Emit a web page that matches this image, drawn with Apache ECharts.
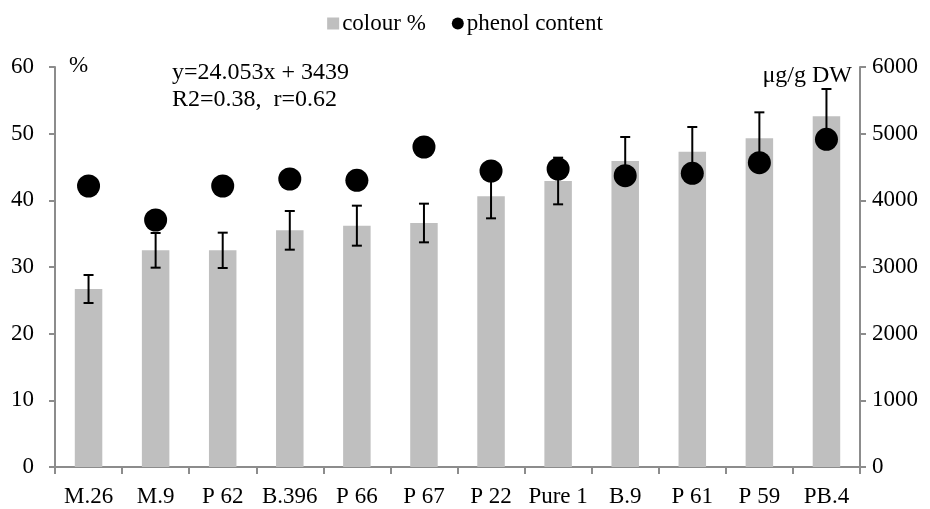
<!DOCTYPE html>
<html><head><meta charset="utf-8">
<script src="https://cdn.jsdelivr.net/npm/echarts@6/dist/echarts.min.js"></script>
<style>html,body{margin:0;padding:0;background:#fff}#c{width:930px;height:509px}</style>
</head><body><div id="c"></div>
<script>
const categories = ['M.26','M.9','P 62','B.396','P 66','P 67','P 22','Pure 1','B.9','P 61','P 59','PB.4'];
const colourPct = [26.7, 32.5, 32.5, 35.5, 36.2, 36.6, 40.6, 42.9, 45.9, 47.3, 49.3, 52.6];
const colourErr = [2.1, 2.6, 2.65, 2.9, 3.0, 2.9, 3.3, 3.5, 3.6, 3.7, 3.9, 4.1];
const phenol = [4215, 3705, 4215, 4320, 4300, 4800, 4440, 4470, 4370, 4405, 4565, 4915];
const leftTicks = [0, 10, 20, 30, 40, 50, 60];
const rightTicks = [0, 1000, 2000, 3000, 4000, 5000, 6000];

const FONT = 'Liberation Serif';
const FS = 23;
const axisColor = '#8c8c8c';
const chart = echarts.init(document.getElementById('c'));
chart.setOption({
  animation: false,
  backgroundColor: '#fff',
  textStyle: {fontFamily: FONT, color: '#000'},
  legend: {
    top: 7, left: 'center', itemGap: 26, itemWidth: 12, itemHeight: 12,
    textStyle: {fontFamily: FONT, fontSize: FS, color: '#000', padding: [0, 0, 0, -2]},
    data: [
      {name: 'colour %', icon: 'rect', itemStyle: {color: '#bfbfbf'}},
      {name: 'phenol content', icon: 'circle', itemStyle: {color: '#000'}}
    ]
  },
  grid: {left: 55, right: 70, top: 67, bottom: 42},
  xAxis: {
    type: 'category', data: categories,
    axisLine: {lineStyle: {color: axisColor, width: 2}},
    axisTick: {show: true, interval: 0, length: 7, lineStyle: {color: axisColor, width: 2}},
    axisLabel: {interval: 0, fontFamily: FONT, fontSize: FS, color: '#000', margin: 18}
  },
  yAxis: [{
    type: 'value', min: leftTicks[0], max: leftTicks[leftTicks.length-1], interval: 10,
    splitLine: {show: false},
    axisLine: {show: true, lineStyle: {color: axisColor, width: 2}},
    axisTick: {show: true, length: 6, lineStyle: {color: axisColor, width: 2}},
    axisLabel: {fontFamily: FONT, fontSize: FS, color: '#000', margin: 21}
  }, {
    type: 'value', min: rightTicks[0], max: rightTicks[rightTicks.length-1], interval: 1000,
    splitLine: {show: false},
    axisLine: {show: true, lineStyle: {color: axisColor, width: 2}},
    axisTick: {show: true, length: 6, lineStyle: {color: axisColor, width: 2}},
    axisLabel: {fontFamily: FONT, fontSize: FS, color: '#000', margin: 12, formatter: v => String(v)}
  }],
  series: [{
    name: 'colour %', type: 'bar', data: colourPct, barWidth: '41%',
    itemStyle: {color: '#bfbfbf'}, z: 2
  }, {
    name: 'err', type: 'custom', z: 3,
    data: colourPct.map((v, i) => [i, v - colourErr[i], v + colourErr[i]]),
    renderItem: function (params, api) {
      const lo = api.coord([api.value(0), api.value(1)]);
      const hi = api.coord([api.value(0), api.value(2)]);
      const hw = 5;
      const st = {stroke: '#000', lineWidth: 2};
      return {type: 'group', children: [
        {type: 'line', shape: {x1: lo[0], y1: lo[1], x2: hi[0], y2: hi[1]}, style: st},
        {type: 'line', shape: {x1: lo[0]-hw, y1: lo[1], x2: lo[0]+hw, y2: lo[1]}, style: st},
        {type: 'line', shape: {x1: hi[0]-hw, y1: hi[1], x2: hi[0]+hw, y2: hi[1]}, style: st}
      ]};
    }
  }, {
    name: 'phenol content', type: 'scatter', yAxisIndex: 1, data: phenol,
    symbol: 'circle', symbolSize: 23, itemStyle: {color: '#000', opacity: 1}, z: 5
  }],
  graphic: [
    {type: 'text', left: 69, top: 54, style: {text: '%', font: '23px "Liberation Serif"', fill: '#000'}},
    {type: 'text', left: 172, top: 61, style: {text: 'y=24.053x + 3439', font: '24px "Liberation Serif"', fill: '#000'}},
    {type: 'text', left: 172, top: 88, style: {text: 'R2=0.38,  r=0.62', font: '24px "Liberation Serif"', fill: '#000'}},
    {type: 'text', right: 78, top: 64, style: {text: 'μg/g DW', font: '24px "Liberation Serif"', fill: '#000'}}
  ]
});
</script></body></html>
